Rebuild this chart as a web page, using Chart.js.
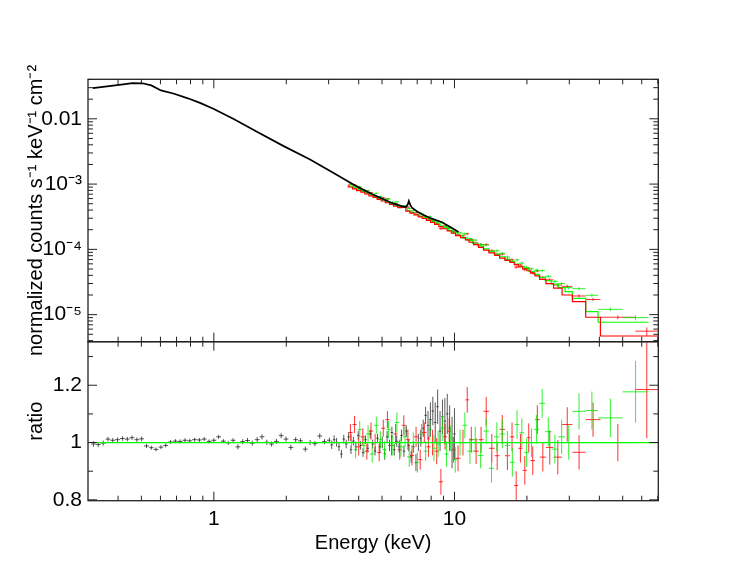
<!DOCTYPE html>
<html><head><meta charset="utf-8">
<script src="https://cdn.jsdelivr.net/npm/chart.js@4.4.1/dist/chart.umd.min.js"></script>
<style>
html,body{margin:0;padding:0;background:#fff;}
#wrap{position:relative;width:747px;height:578px;overflow:hidden;background:#fff;}
.box{position:absolute;left:0;}
</style></head><body>
<div id="wrap">
<div class="box" style="top:0;width:747px;height:372px"><canvas id="top" width="747" height="372"></canvas></div>
<div class="box" style="top:300px;width:747px;height:278px"><canvas id="bot" width="747" height="278"></canvas></div>
</div>
<script>
// ---------- DATA ----------
// Black (soft instrument) unfolded spectrum, keV and counts s^-1 keV^-1 cm^-2
const blackSpecE = [0.314,0.36,0.42,0.459,0.505,0.55,0.603,0.684,0.78,0.881,1.0,1.209,1.504,1.942,2.50,3.12,3.43,3.77,4.15,4.56,5.02,5.52,6.07,6.28,6.40,6.46,6.55,6.67,7.0,7.33,8.0,8.87,9.6,10.4];
const blackSpecF = [0.0296,0.0314,0.0338,0.0353,0.0350,0.0325,0.0272,0.0242,0.0206,0.0174,0.0141,0.0099,0.00638,0.00385,0.00241,0.00150,0.00123,0.00100,8.3e-4,7.0e-4,5.95e-4,5.1e-4,4.55e-4,4.45e-4,4.9e-4,5.5e-4,4.8e-4,4.3e-4,3.8e-4,3.45e-4,2.98e-4,2.6e-4,2.2e-4,1.85e-4];

// Black ratio points
const blackRatE = [0.316,0.331,0.347,0.363,0.380,0.398,0.417,0.437,0.457,0.479,0.501,0.525,0.550,0.575,0.603,0.631,0.661,0.692,0.724,0.759,0.794,0.832,0.871,0.912,0.955,1.000,1.047,1.096,1.148,1.202,1.259,1.318,1.380,1.445,1.514,1.585,1.660,1.738,1.820,1.905,1.995,2.089,2.188,2.291,2.399,2.512,2.630,2.754,2.884,3.020,
3.090,3.162,3.236,3.311,3.388,3.467,3.548,3.631,3.715,3.802,3.890,3.981,4.074,4.169,4.266,4.365,4.467,4.571,4.677,4.786,4.898,5.012,5.129,5.248,5.370,5.495,5.623,5.754,5.888,6.026,6.166,6.310,6.457,6.607,6.761,6.918,7.079,7.244,7.413,7.586,7.762,7.943,8.128,8.318,8.511,8.710,8.913,9.120,9.333,9.550,9.772,10.00];
const blackRat = [0.995,0.993,0.998,1.012,1.008,1.010,1.014,1.012,1.017,1.010,1.013,0.988,0.982,0.976,0.984,0.990,1.002,1.005,1.004,1.008,1.006,1.010,1.009,1.012,1.004,1.008,1.020,1.005,0.999,1.008,0.985,1.003,1.007,0.998,1.010,1.020,1.001,0.995,1.004,1.024,1.012,0.983,1.010,1.006,0.977,1.000,0.996,1.023,1.003,1.008,
0.992,1.010,1.001,0.985,0.960,1.012,0.995,1.020,0.975,1.005,0.985,1.025,0.990,0.965,1.010,0.980,1.030,0.995,0.970,1.015,0.985,1.000,0.960,1.020,0.990,1.035,0.975,1.005,0.985,1.025,0.970,1.040,0.990,0.950,0.985,0.930,1.000,1.015,1.050,1.095,1.060,1.080,1.110,1.070,1.125,1.040,1.090,1.075,1.100,1.050,1.000,1.030];
const blackRatErr = [0.010,0.009,0.009,0.008,0.008,0.008,0.008,0.008,0.008,0.008,0.008,0.007,0.007,0.007,0.007,0.007,0.007,0.007,0.007,0.007,0.007,0.007,0.007,0.007,0.007,0.007,0.007,0.007,0.007,0.007,0.009,0.009,0.009,0.009,0.009,0.009,0.009,0.009,0.009,0.009,0.009,0.009,0.009,0.009,0.009,0.009,0.009,0.009,0.009,0.009,
0.015,0.015,0.015,0.015,0.015,0.015,0.015,0.015,0.015,0.015,0.015,0.015,0.015,0.015,0.015,0.015,0.015,0.015,0.015,0.015,0.020,0.020,0.020,0.020,0.020,0.020,0.020,0.020,0.020,0.020,0.020,0.020,0.020,0.020,0.020,0.030,0.030,0.030,0.030,0.030,0.05,0.06,0.05,0.07,0.06,0.07,0.06,0.08,0.07,0.08,0.09,0.09];

// Red (hard instrument A): bin edges (keV), ratio, ratio error, model flux
const redEdges = [3.62,3.77,3.92,4.08,4.24,4.41,4.59,4.77,4.96,5.16,5.37,5.58,5.81,6.04,6.28,6.53,6.79,7.06,7.35,7.64,7.95,8.27,8.61,8.96,9.32,9.70,10.1,10.6,11.1,11.5,12.0,12.6,13.2,13.9,14.7,15.4,16.2,17.0,17.7,18.4,19.2,20.0,20.7,21.6,22.6,24.0,25.8,28.0,30.9,35.1,40.4,56.4,70.3];
const redRatio = [1.035,1.063,0.985,1.02,0.97,1.04,1.00,0.965,1.05,1.08,0.99,1.03,0.975,1.06,1.01,0.955,1.02,0.94,1.035,0.985,1.00,0.97,0.863,1.02,1.04,0.975,0.945,1.00,1.149,1.01,0.97,1.01,1.109,0.98,0.954,1.046,0.954,1.02,0.85,0.98,0.903,1.017,0.937,1.08,0.949,0.983,0.949,1.063,0.966,1.08,1.00,1.185];
const redErr = [0.03,0.03,0.03,0.03,0.03,0.03,0.03,0.03,0.03,0.03,0.035,0.035,0.035,0.035,0.035,0.035,0.035,0.035,0.035,0.035,0.045,0.045,0.045,0.045,0.045,0.045,0.045,0.045,0.045,0.045,0.045,0.045,0.05,0.05,0.05,0.05,0.05,0.05,0.05,0.05,0.05,0.05,0.05,0.05,0.05,0.06,0.06,0.06,0.06,0.06,0.065,0.17];
const redModel = [9.61e-4,9.03e-4,8.47e-4,7.96e-4,7.50e-4,7.05e-4,6.62e-4,6.24e-4,5.85e-4,5.51e-4,5.18e-4,4.87e-4,4.58e-4,4.35e-4,4.40e-4,3.85e-4,3.58e-4,3.37e-4,3.16e-4,2.97e-4,2.79e-4,2.59e-4,2.41e-4,2.23e-4,2.07e-4,1.92e-4,1.77e-4,1.62e-4,1.51e-4,1.40e-4,1.29e-4,1.18e-4,1.07e-4,9.73e-5,8.83e-5,8.07e-5,7.36e-5,6.79e-5,6.30e-5,5.85e-5,5.41e-5,5.04e-5,4.70e-5,4.33e-5,3.92e-5,3.47e-5,2.99e-5,2.55e-5,2.00e-5,1.58e-5,9.12e-6,4.71e-6];

// Green (hard instrument B)
const greenEdges = [3.66,3.81,3.96,4.12,4.29,4.46,4.64,4.83,5.02,5.22,5.43,5.65,5.88,6.11,6.36,6.61,6.88,7.15,7.44,7.74,8.05,8.38,8.72,9.07,9.45,9.85,10.3,10.8,11.3,11.9,12.5,13.2,13.9,14.6,15.4,16.2,17.0,17.8,18.6,19.5,20.4,21.4,22.5,23.8,25.3,27.0,28.8,30.9,35.1,39.5,50.0,64.0];
const greenRatio = [1.00,0.975,1.045,0.99,1.03,0.96,1.06,1.01,0.975,1.045,0.99,1.07,0.985,1.02,0.95,1.00,0.93,1.03,0.97,1.045,0.98,0.995,1.05,0.96,1.015,0.94,1.00,1.06,0.97,1.01,0.955,1.04,0.91,1.02,1.03,0.99,0.931,1.063,1.034,0.965,1.00,1.046,1.137,1.038,0.977,1.02,1.00,1.109,1.112,1.086,1.177];
const greenErr = [0.03,0.03,0.03,0.03,0.03,0.03,0.03,0.03,0.03,0.03,0.035,0.035,0.035,0.035,0.035,0.035,0.035,0.035,0.035,0.035,0.045,0.045,0.045,0.045,0.045,0.045,0.045,0.045,0.045,0.045,0.045,0.045,0.05,0.05,0.05,0.05,0.05,0.05,0.05,0.05,0.05,0.05,0.05,0.05,0.05,0.06,0.06,0.063,0.066,0.067,0.108];
const greenModel = [9.89e-4,9.29e-4,8.72e-4,8.21e-4,7.71e-4,7.24e-4,6.81e-4,6.40e-4,6.01e-4,5.66e-4,5.31e-4,5.00e-4,4.70e-4,4.55e-4,4.45e-4,3.90e-4,3.67e-4,3.45e-4,3.24e-4,3.05e-4,2.86e-4,2.65e-4,2.46e-4,2.28e-4,2.11e-4,1.95e-4,1.79e-4,1.64e-4,1.50e-4,1.37e-4,1.24e-4,1.12e-4,1.02e-4,9.31e-5,8.45e-5,7.71e-5,7.06e-5,6.50e-5,5.96e-5,5.47e-5,5.02e-5,4.58e-5,4.15e-5,3.72e-5,3.32e-5,2.93e-5,2.59e-5,2.25e-5,1.78e-5,1.11e-5,7.65e-6];

// Axes: ranges, tick values and labels
const xRange = [0.314, 70.3];
const xLabelTicks = [1, 10];
const xLabels = ['1', '10'];
const xMinorTicks = [0.4,0.5,0.6,0.7,0.8,0.9,2,3,4,5,6,7,8,9,20,30,40,50,60,70];
const yTopRange = [3.85e-6, 0.0403];
const yTopTicks = [1e-5, 1e-4, 1e-3, 1e-2];
const yTopLabels = ['10\u207B\u2075', '10\u207B\u2074', '10\u207B\u00B3', '0.01'];
const yTopMinor = [4e-6,5e-6,6e-6,7e-6,8e-6,9e-6,2e-5,3e-5,4e-5,5e-5,6e-5,7e-5,8e-5,9e-5,2e-4,3e-4,4e-4,5e-4,6e-4,7e-4,8e-4,9e-4,2e-3,3e-3,4e-3,5e-3,6e-3,7e-3,8e-3,9e-3,0.02,0.03,0.04];
const yBotRange = [0.797, 1.352];
const yBotTicks = [0.8, 1, 1.2];
const yBotLabels = ['0.8', '1', '1.2'];
const yBotMinor = [0.9, 1.1, 1.3];

// ---------- build library structures ----------
const FONT = "'Liberation Sans', Arial, Helvetica, sans-serif";
Chart.defaults.font.family = FONT;
Chart.defaults.color = '#000';

function edgesFromCenters(c) {
  const e = [];
  for (let i = 0; i <= c.length; i++) {
    if (i === 0) e.push(c[0] * c[0] / Math.sqrt(c[0] * c[1]));
    else if (i === c.length) e.push(c[i-1] * c[i-1] / Math.sqrt(c[i-2] * c[i-1]));
    else e.push(Math.sqrt(c[i-1] * c[i]));
  }
  return e;
}
const blackEdges = edgesFromCenters(blackRatE);
const blackRatioPts = blackRatE.map((e, i) => ({x: e, y: blackRat[i], xlo: blackEdges[i], xhi: blackEdges[i+1], ylo: blackRat[i] - blackRatErr[i], yhi: blackRat[i] + blackRatErr[i]}));
function ratioPts(edges, r, err) {
  return r.map((v, i) => ({x: Math.sqrt(edges[i]*edges[i+1]), y: v, xlo: edges[i], xhi: edges[i+1], ylo: v - err[i], yhi: v + err[i]}));
}
function fluxPts(edges, r, err, m) {
  return r.map((v, i) => ({x: Math.sqrt(edges[i]*edges[i+1]), y: m[i]*v, xlo: edges[i], xhi: edges[i+1], ylo: m[i]*(v - err[i]), yhi: m[i]*(v + err[i])}));
}
function stepPts(edges, m) {
  const p = m.map((v, i) => ({x: edges[i], y: v}));
  p.push({x: edges[edges.length-1], y: m[m.length-1]});
  return p;
}

const errPlugin = {
  id: 'errbars',
  beforeDatasetsDraw(chart) {
    const {ctx, chartArea: a} = chart;
    const x = chart.scales.x, y = chart.scales.y;
    ctx.save();
    ctx.beginPath(); ctx.rect(a.left, a.top, a.right - a.left, a.bottom - a.top); ctx.clip();
    chart.data.datasets.forEach(ds => {
      if (!ds.errorBars) return;
      ctx.strokeStyle = ds.barColor; ctx.lineWidth = 1;
      ctx.beginPath();
      ds.data.forEach(p => {
        const px = x.getPixelForValue(p.x), py = y.getPixelForValue(p.y);
        ctx.moveTo(x.getPixelForValue(p.xlo), py); ctx.lineTo(x.getPixelForValue(p.xhi), py);
        ctx.moveTo(px, y.getPixelForValue(p.ylo)); ctx.lineTo(px, y.getPixelForValue(p.yhi));
      });
      ctx.stroke();
    });
    ctx.restore();
  }
};
const framePlugin = {
  id: 'frame',
  afterDraw(chart, args, o) {
    const {ctx, chartArea: a} = chart;
    const x = chart.scales.x, y = chart.scales.y;
    ctx.save();
    ctx.strokeStyle = '#222'; ctx.lineWidth = 1;
    ctx.beginPath();
    const tx = (vals, len) => vals.forEach(v => { const p = x.getPixelForValue(v); if (p < a.left || p > a.right) return;
      ctx.moveTo(p, a.top); ctx.lineTo(p, a.top + len); ctx.moveTo(p, a.bottom); ctx.lineTo(p, a.bottom - len); });
    const ty = (vals, len) => vals.forEach(v => { const p = y.getPixelForValue(v); if (p < a.top || p > a.bottom) return;
      ctx.moveTo(a.left, p); ctx.lineTo(a.left + len, p); ctx.moveTo(a.right, p); ctx.lineTo(a.right - len, p); });
    tx(o.xMajor, 9); tx(o.xMinor, 5); ty(o.yMajor, 9); ty(o.yMinor, 5);
    ctx.stroke();
    ctx.lineWidth = 1.3;
    ctx.strokeRect(a.left, a.top, a.right - a.left, a.bottom - a.top);
    ctx.restore();
  }
};

const RED = 'rgba(255,0,0,0.8)', GREEN = 'rgba(0,235,0,0.8)', BLACK = 'rgba(0,0,0,0.65)';
const line = (data, color, stepped, w) => ({type: 'scatter', data, showLine: true, stepped: stepped ? 'after' : false, borderColor: color, borderWidth: w || 1.2, pointRadius: 0, tension: 0});
const bars = (data, color) => ({type: 'scatter', data, showLine: false, pointRadius: 0, errorBars: true, barColor: color});

// ---------- top panel ----------
new Chart(document.getElementById('top'), {
  type: 'scatter',
  data: {datasets: [
    bars(fluxPts(redEdges, redRatio, redErr, redModel), RED),
    bars(fluxPts(greenEdges, greenRatio, greenErr, greenModel), GREEN),
    line(blackSpecE.map((e, i) => ({x: e, y: blackSpecF[i]})), '#000', false, 1.7),
    line(stepPts(redEdges, redModel), '#ff0000', true),
    line(stepPts(greenEdges, greenModel), '#00ff00', true)
  ]},
  options: {
    responsive: false, animation: false, events: [],
    layout: {autoPadding: false, padding: {left: 0, right: 88.7, top: 79.3, bottom: 30.3}},
    plugins: {legend: {display: false}, tooltip: {enabled: false},
      frame: {xMajor: xLabelTicks, xMinor: xMinorTicks, yMajor: yTopTicks, yMinor: yTopMinor}},
    scales: {
      x: {type: 'logarithmic', display: false, min: xRange[0], max: xRange[1]},
      y: {type: 'logarithmic', min: yTopRange[0], max: yTopRange[1],
        afterBuildTicks: s => { s.ticks = yTopTicks.map(v => ({value: v})); },
        afterFit: s => { s.width = 88; },
        grid: {display: false, drawTicks: false}, border: {display: false},
        ticks: {padding: 6, autoSkip: false, font: {size: 21}, color: '#000', callback: (v, i) => yTopLabels[i]},
        title: {display: true, text: 'normalized counts s\u207B\u00B9 keV\u207B\u00B9 cm\u207B\u00B2', font: {size: 20}, color: '#000', padding: {top: 24, bottom: 0}}
      }
    }
  },
  plugins: [errPlugin, framePlugin]
});

// ---------- bottom panel ----------
new Chart(document.getElementById('bot'), {
  type: 'scatter',
  data: {datasets: [
    bars(blackRatioPts, BLACK),
    bars(ratioPts(redEdges, redRatio, redErr), RED),
    bars(ratioPts(greenEdges, greenRatio, greenErr), GREEN),
    line([{x: xRange[0], y: 1}, {x: xRange[1], y: 1}], '#00ff00', false)
  ]},
  options: {
    responsive: false, animation: false, events: [],
    layout: {autoPadding: false, padding: {left: 0, right: 88.7, top: 41.7, bottom: 0}},
    plugins: {legend: {display: false}, tooltip: {enabled: false},
      frame: {xMajor: xLabelTicks, xMinor: xMinorTicks, yMajor: yBotTicks, yMinor: yBotMinor}},
    scales: {
      x: {type: 'logarithmic', min: xRange[0], max: xRange[1],
        afterBuildTicks: s => { s.ticks = xLabelTicks.map(v => ({value: v})); },
        afterFit: s => { s.height = 77.3; },
        grid: {display: false, drawTicks: false}, border: {display: false},
        ticks: {padding: 6, autoSkip: false, maxRotation: 0, font: {size: 21}, color: '#000', callback: (v, i) => xLabels[i]},
        title: {display: true, text: 'Energy (keV)', font: {size: 20}, color: '#000', padding: {top: 0, bottom: 23}}
      },
      y: {type: 'linear', min: yBotRange[0], max: yBotRange[1],
        afterBuildTicks: s => { s.ticks = yBotTicks.map(v => ({value: v})); },
        afterFit: s => { s.width = 88; },
        grid: {display: false, drawTicks: false}, border: {display: false},
        ticks: {padding: 6, autoSkip: false, font: {size: 21}, color: '#000', callback: (v, i) => yBotLabels[i]},
        title: {display: true, text: 'ratio', font: {size: 20}, color: '#000', padding: {top: 24, bottom: 0}}
      }
    }
  },
  plugins: [errPlugin, framePlugin]
});
</script>
</body></html>
